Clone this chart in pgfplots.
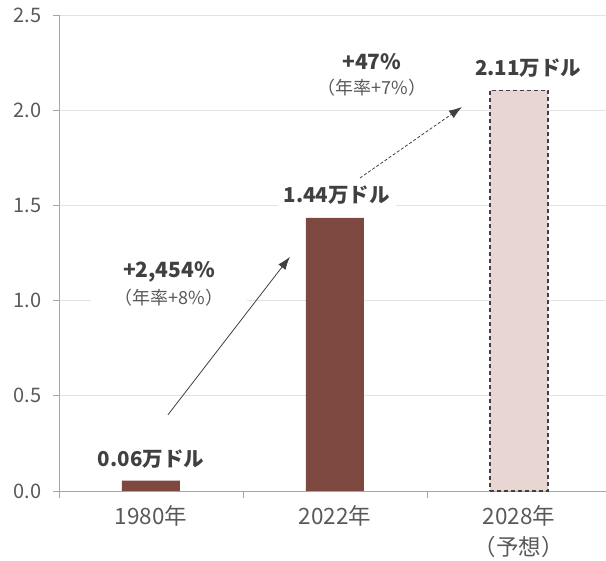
\documentclass[border=0pt]{standalone}
\usepackage{pgfplots}
\pgfplotsset{compat=1.18}
\usepackage{fontspec}
\setmainfont{Noto Sans CJK JP}
\usetikzlibrary{arrows.meta}
\definecolor{barA}{HTML}{7D4840}
\definecolor{barB}{HTML}{E8D6D2}
\definecolor{txt}{HTML}{404040}
\definecolor{ticktxt}{HTML}{595959}
\definecolor{gridc}{HTML}{E3E3E3}
\definecolor{axln}{HTML}{A6A6A6}
\begin{document}
\begin{tikzpicture}
\useasboundingbox (-59pt,-70pt) rectangle (547pt,491pt);
\begin{axis}[
  scale only axis, width=547pt, height=476pt,
  at={(0pt,0pt)}, anchor=south west,
  xmin=-0.5, xmax=2.473, ymin=0, ymax=2.5,
  axis x line=bottom, axis y line=left,
  axis line style={-, draw=axln, line width=0.8pt},
  tick align=outside,
  xtick={0,1,2},
  xticklabels={1980年, 2022年, {2028年\\[3pt]（予想）}},
  major x tick style={draw=none},
  minor xtick={-0.5,0.5,1.5},
  minor tick length=7pt,
  minor x tick style={draw=axln, line width=0.8pt},
  xticklabel style={align=center, font=\fontsize{22.5}{28}\selectfont, text=ticktxt, yshift=-5pt},
  ytick={0,0.5,1,1.5,2,2.5},
  major tick length=6pt,
  major y tick style={draw=axln, line width=0.8pt},
  yticklabel style={font=\fontsize{20}{22}\selectfont, text=ticktxt, xshift=-8pt,
    /pgf/number format/fixed, /pgf/number format/precision=1, /pgf/number format/fixed zerofill},
  /pgf/number format/assume math mode=true,
  ymajorgrids, grid style={draw=gridc, line width=0.8pt},
  clip=false,
]
\addplot[ybar, bar shift=0pt, bar width=58pt, fill=barA, draw=none] coordinates {(0,0.055) (1,1.435)};
\addplot[ybar, bar shift=0pt, bar width=58pt, fill=barB, draw=txt, line width=1.1pt, dash pattern=on 4pt off 3pt] coordinates {(2,2.105)};

\draw[txt, line width=0.8pt, -{Latex[length=13pt,width=9pt]}] (axis cs:0.092,0.40) -- (axis cs:0.755,1.23);
\draw[txt, line width=0.8pt, dash pattern=on 3pt off 2pt, -{Latex[length=13pt,width=9pt]}] (axis cs:1.136,1.644) -- (axis cs:1.690,2.017);

\node[fill=white, text=txt, font=\bfseries\fontsize{20.5}{24}\selectfont, inner sep=3pt] at (axis cs:0,0.17) {0.06万ドル};
\node[fill=white, text=txt, font=\bfseries\fontsize{20.5}{24}\selectfont, inner xsep=6pt, inner ysep=4pt] at (axis cs:1.01,1.555) {1.44万ドル};
\node[fill=white, text=txt, font=\bfseries\fontsize{20.5}{24}\selectfont, inner sep=3pt] at (axis cs:2.05,2.22) {2.11万ドル};

\node[fill=white, text=txt, font=\bfseries\fontsize{21}{24}\selectfont, inner xsep=22pt, inner ysep=2pt] at (axis cs:0.098,1.15) {+2,454\%};
\node[fill=white, text=ticktxt, font=\fontsize{18}{20}\selectfont, inner xsep=24pt, inner ysep=2pt] at (axis cs:0.098,1.015) {（年率+8\%）};

\node[fill=white, text=txt, font=\bfseries\fontsize{21}{24}\selectfont, inner sep=2pt] at (axis cs:1.20,2.255) {+47\%};
\node[fill=white, text=ticktxt, font=\fontsize{18}{20}\selectfont, inner sep=2pt] at (axis cs:1.20,2.12) {（年率+7\%）};
\end{axis}
\end{tikzpicture}
\end{document}
